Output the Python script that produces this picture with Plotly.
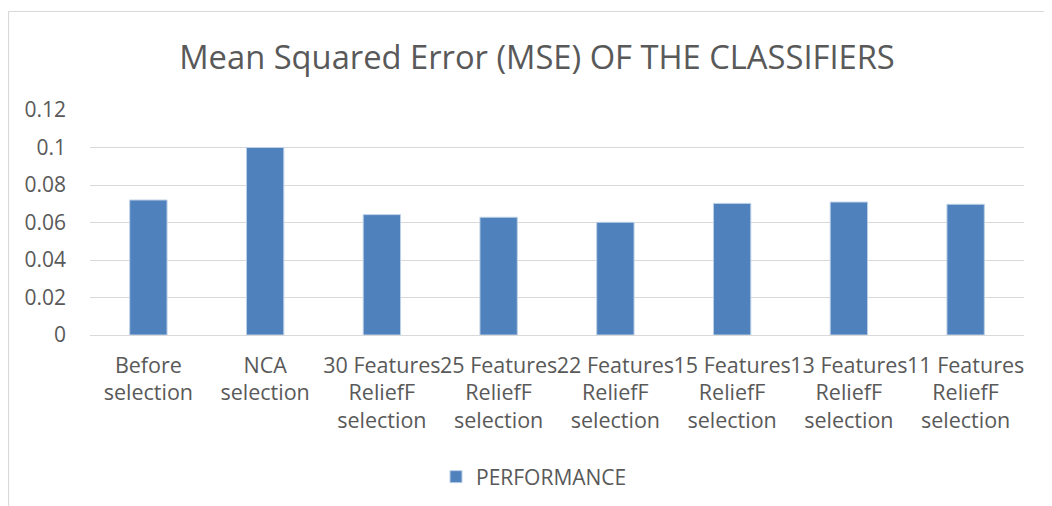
import plotly.graph_objects as go

categories = [
    "Before<br>selection",
    "NCA<br>selection",
    "30 Features<br>ReliefF<br>selection",
    "25 Features<br>ReliefF<br>selection",
    "22 Features<br>ReliefF<br>selection",
    "15 Features<br>ReliefF<br>selection",
    "13 Features<br>ReliefF<br>selection",
    "11 Features<br>ReliefF<br>selection",
]
performance = [0.072, 0.100, 0.0642, 0.0628, 0.0601, 0.0702, 0.0709, 0.0697]
y_ticks = [0, 0.02, 0.04, 0.06, 0.08, 0.1, 0.12]
y_tick_labels = ["0", "0.02", "0.04", "0.06", "0.08", "0.1", "0.12"]

TEXT = "#595959"
FONT = "Open Sans"

fig = go.Figure()
fig.add_trace(go.Bar(
    x=categories, y=performance, name="PERFORMANCE",
    marker=dict(color="#4F81BD", line=dict(color="#BDD0E6", width=1)),
))

W, H = 1052, 506
OFF = 8  # page body offset
# plot area in screen coords: x 90..1024, y 110..335
L = 90 - OFF
T = 110 - OFF
R = W - (1024 - OFF)
B = H - (335 - OFF)
pw, ph = W - L - R, H - T - B

def px(x):
    return (x - OFF - L) / pw

def py(y):
    return (H - B - (y - OFF)) / ph

fig.update_layout(
    width=W, height=H,
    margin=dict(l=L, r=R, t=T, b=B, autoexpand=False),
    paper_bgcolor="white", plot_bgcolor="white",
    bargap=0.68,
    font=dict(family=FONT, color=TEXT, size=21),
    title=dict(text="Mean Squared Error (MSE) OF THE CLASSIFIERS",
               x=(537 - OFF) / W, xanchor="center", y=1 - (58 - OFF) / H, yanchor="middle",
               xref="container", yref="container",
               font=dict(family=FONT, size=32.7, color=TEXT)),
    xaxis=dict(showgrid=False, showline=False, ticks="", tickangle=0,
               automargin=False, ticklabelstandoff=15,
               tickfont=dict(size=21.5, color=TEXT, family=FONT)),
    yaxis=dict(range=[0, 0.12], tickvals=y_ticks, ticktext=y_tick_labels,
               showgrid=True, gridcolor="#D9D9D9", gridwidth=1.3,
               zeroline=True, zerolinecolor="#D9D9D9", zerolinewidth=1.3,
               showline=False, ticks="", ticklabelstandoff=23, automargin=False,
               tickfont=dict(size=21, color=TEXT, family=FONT)),
    showlegend=True,
    legend=dict(orientation="h", x=px(436), xanchor="left", y=py(477), yanchor="middle",
                font=dict(size=21, color=TEXT, family=FONT), itemwidth=30),
    shapes=[dict(type="rect", xref="paper", yref="paper",
                 x0=px(8.5), x1=px(1070), y0=py(11.5), y1=py(530),
                 line=dict(color="#D9D9D9", width=1.2), fillcolor="rgba(0,0,0,0)",
                 layer="below")],
)

fig.write_html("out.html")
